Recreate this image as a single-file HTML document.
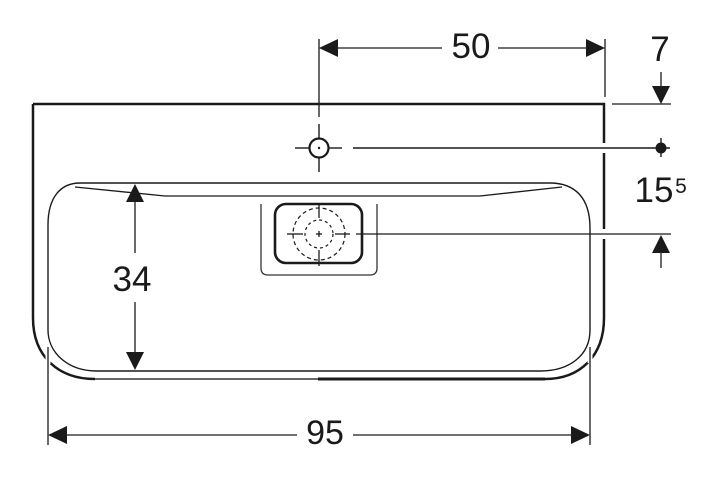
<!DOCTYPE html>
<html>
<head>
<meta charset="utf-8">
<style>
  html, body { margin: 0; padding: 0; background: #fff; }
  svg { display: block; }
  text { font-family: "Liberation Sans", Arial, sans-serif; fill: #1a1a1a; }
</style>
</head>
<body>
<svg width="720" height="480" viewBox="0 0 720 480" xmlns="http://www.w3.org/2000/svg">
  <rect width="720" height="480" fill="#fff"/>

  <!-- Outer basin outline -->
  <g fill="none" stroke="#1a1a1a" stroke-linejoin="miter">
    <path d="M33,104 L604,104 L604,318 C604,356 580,379 545,379" stroke-width="2.5"/>
    <path d="M318,379 L545,379" stroke-width="2.9"/>
    <path d="M318,379 L95,379" stroke-width="1.6" stroke="#333"/>
    <path d="M95,379 C58,379 33,356 33,318 L33,104" stroke-width="2.5"/>
  </g>

  <!-- Inner basin outline -->
  <path d="M80,183 L550,183 C575,183 590,198 590,228 L590,330 C590,355 570,371 540,371 L97,371 C67,371 48,352 48,330 L48,225 C48,198 60,183 80,183 Z"
        fill="none" stroke="#1a1a1a" stroke-width="1.4"/>
  <!-- rim shading line -->
  <path d="M75,187 L165,196 L480,196 L562,187" fill="none" stroke="#1a1a1a" stroke-width="1.3"/>

  <!-- white gaps where lines cross -->
  <g stroke="#fff" stroke-width="5">
    <line x1="48" y1="348" x2="48" y2="364"/>
    <line x1="590" y1="347" x2="590" y2="363"/>
    <line x1="604" y1="143" x2="604" y2="153"/>
    <line x1="604" y1="229" x2="604" y2="239"/>
  </g>

  <!-- Drain recess -->
  <path d="M261,204 V268 Q261,275 268,275 H370 Q377,275 377,268 V204" fill="none" stroke="#333" stroke-width="1.3"/>
  <!-- Drain cover -->
  <rect x="275" y="204" width="87" height="59" rx="11" ry="11" fill="none" stroke="#1a1a1a" stroke-width="2.6"/>
  <circle cx="319" cy="234" r="26" fill="none" stroke="#1a1a1a" stroke-width="1.2" stroke-dasharray="4 3"/>
  <circle cx="319" cy="234" r="14" fill="none" stroke="#1a1a1a" stroke-width="1.2" stroke-dasharray="3 3"/>
  <g stroke="#1a1a1a" stroke-width="1.3">
    <line x1="287" y1="234" x2="303" y2="234"/>
    <line x1="335" y1="234" x2="350" y2="234"/>
    <line x1="316" y1="234" x2="322" y2="234"/>
    <line x1="319" y1="203" x2="319" y2="218"/>
    <line x1="319" y1="231" x2="319" y2="237"/>
    <line x1="319" y1="250" x2="319" y2="266"/>
    <line x1="356" y1="234" x2="671" y2="234"/>
  </g>

  <!-- Tap hole -->
  <circle cx="319" cy="148" r="9.5" fill="none" stroke="#1a1a1a" stroke-width="2.2"/>
  <circle cx="319" cy="148" r="1.2" fill="#1a1a1a"/>
  <g stroke="#1a1a1a" stroke-width="1.4">
    <line x1="295" y1="148" x2="309" y2="148"/>
    <line x1="329" y1="148" x2="342" y2="148"/>
    <line x1="319" y1="124" x2="319" y2="138"/>
    <line x1="319" y1="158" x2="319" y2="172"/>
    <line x1="353" y1="148" x2="670" y2="148"/>
    <line x1="661" y1="138" x2="661" y2="157"/>
  </g>
  <circle cx="661" cy="148" r="5.5" fill="#1a1a1a"/>

  <!-- Dimension lines -->
  <g stroke="#1a1a1a" stroke-width="1.3">
    <!-- 50 -->
    <line x1="319" y1="39" x2="319" y2="117"/>
    <line x1="605" y1="39" x2="605" y2="97"/>
    <line x1="336" y1="48" x2="442" y2="48"/>
    <line x1="498" y1="48" x2="588" y2="48"/>
    <!-- 7 -->
    <line x1="612" y1="104" x2="671" y2="104"/>
    <line x1="661" y1="72" x2="661" y2="88"/>
    <!-- 15.5 lower arrow -->
    <line x1="661" y1="252" x2="661" y2="268"/>
    <!-- 34 -->
    <line x1="135" y1="200" x2="135" y2="253"/>
    <line x1="135" y1="302" x2="135" y2="354"/>
    <!-- 95 -->
    <line x1="48" y1="347" x2="48" y2="445"/>
    <line x1="590" y1="347" x2="590" y2="445"/>
    <line x1="65" y1="435" x2="297" y2="435"/>
    <line x1="353" y1="435" x2="573" y2="435"/>
  </g>

  <!-- Arrowheads -->
  <g fill="#1a1a1a">
    <polygon points="319,48 338,39 338,57"/>
    <polygon points="605,48 586,39 586,57"/>
    <polygon points="661,104 652,86 670,86"/>
    <polygon points="661,235 652,253 670,253"/>
    <polygon points="135,184 126,202 144,202"/>
    <polygon points="135,370 126,352 144,352"/>
    <polygon points="48,435 67,426 67,444"/>
    <polygon points="590,435 571,426 571,444"/>
  </g>

  <!-- Labels -->
  <text x="471" y="58" font-size="35" text-anchor="middle">50</text>
  <text x="660" y="61" font-size="35" text-anchor="middle">7</text>
  <text x="654" y="202" font-size="35" text-anchor="middle">15</text>
  <text x="681" y="193" font-size="21" text-anchor="middle">5</text>
  <text x="132" y="291" font-size="35" text-anchor="middle">34</text>
  <text x="325" y="444" font-size="34" text-anchor="middle">95</text>
</svg>
</body>
</html>
